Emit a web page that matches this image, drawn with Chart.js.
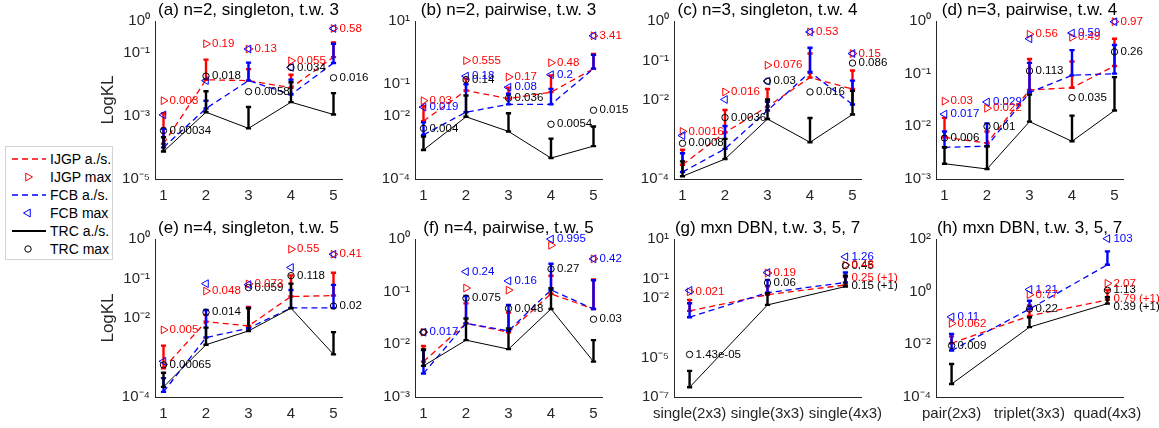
<!DOCTYPE html>
<html><head><meta charset="utf-8">
<script src="https://cdn.jsdelivr.net/npm/chart.js@4.4.0/dist/chart.umd.min.js"></script>
<style>
html,body{margin:0;padding:0;background:#fff;width:1159px;height:428px;overflow:hidden;position:relative;font-family:"Liberation Sans",Arial,Helvetica,sans-serif;}
canvas{position:absolute;}
#legend{position:absolute;left:5px;top:146px;width:106px;height:112px;border:1px solid #d4d4d4;background:#fff;z-index:10;font-size:14px;color:#000;}
.li{position:absolute;left:0;height:18px;width:106px;}
.li svg{position:absolute;left:6px;top:0;}
.li span{position:absolute;left:44px;top:0;line-height:18px;white-space:nowrap;}
</style></head>
<body>
<div id="legend">
 <div class="li" style="top:3px"><svg width="34" height="18"><line x1="0" y1="9" x2="34" y2="9" stroke="#ff0000" stroke-width="1.3" stroke-dasharray="6,4"/></svg><span>IJGP a./s.</span></div>
 <div class="li" style="top:21px"><svg width="34" height="18"><polygon points="20.5,9 13.75,5.1 13.75,12.9" fill="none" stroke="#ff0000" stroke-width="1"/></svg><span>IJGP max</span></div>
 <div class="li" style="top:39px"><svg width="34" height="18"><line x1="0" y1="9" x2="34" y2="9" stroke="#0000ff" stroke-width="1.3" stroke-dasharray="6,4"/></svg><span>FCB a./s.</span></div>
 <div class="li" style="top:57px"><svg width="34" height="18"><polygon points="11.5,9 18.25,5.1 18.25,12.9" fill="none" stroke="#0000ff" stroke-width="1"/></svg><span>FCB max</span></div>
 <div class="li" style="top:75px"><svg width="34" height="18"><line x1="0" y1="9" x2="34" y2="9" stroke="#000" stroke-width="2"/></svg><span>TRC a./s.</span></div>
 <div class="li" style="top:93px"><svg width="34" height="18"><circle cx="16" cy="9" r="3.2" fill="none" stroke="#000" stroke-width="1"/></svg><span>TRC max</span></div>
</div>
<script>
// ---------- shared categories ----------
const xNum = [1, 2, 3, 4, 5];
const xCat = [1, 2, 3];
const catG = ['single(2x3)', 'single(3x3)', 'single(4x3)'];
const catH = ['pair(2x3)', 'triplet(3x3)', 'quad(4x3)'];

// ---------- (a) n=2, singleton, t.w. 3 ----------
const aTicks = [1e-5, 1e-3, 1e-1, 1];
const aIJGP = [1.3e-4, 0.0138, 0.013, 0.0077, 0.072];
const aIJGPtop = [1.2e-3, 0.06, 0.03, 0.02, 0.21];
const aFCB = [1e-4, 0.0017, 0.013, 0.0047, 0.047];
const aFCBtop = [3.9e-4, 0.003, 0.048, 0.014, 0.19];
const aTRC = [7.4e-5, 1.3e-3, 4e-4, 2.7e-3, 1.1e-3];
const aTRCtop = [2.1e-4, 6e-3, 1.9e-3, 0.0115, 5.2e-3];
const aIJGPmax = [0.003, 0.19, 0.13, 0.055, 0.58];
const aFCBmax = [0.00107, 0.013, 0.13, 0.034, 0.58];
const aTRCmax = [0.00034, 0.018, 0.0058, 0.034, 0.016];
const aIJGPlbl = ['0.003', '0.19', '0.13', '0.055', '0.58'];
const aFCBlbl = ['', '', '', '', ''];
const aTRClbl = ['0.00034', '0.018', '0.0058', '0.034', '0.016'];

// ---------- (b) n=2, pairwise, t.w. 3 ----------
const bTicks = [1e-4, 1e-2, 1e-1, 10];
const bIJGP = [6.8e-3, 0.063, 0.035, 0.056, 0.31];
const bIJGPtop = [0.02, 0.15, 0.078, 0.19, 0.9];
const bFCB = [2.5e-3, 0.013, 0.023, 0.023, 0.31];
const bFCBtop = [6.2e-3, 0.1, 0.05, 0.071, 0.85];
const bTRC = [8.3e-4, 9.3e-3, 3.2e-3, 4.6e-4, 1.1e-3];
const bTRCtop = [2.2e-3, 0.044, 0.012, 1.9e-3, 4.6e-3];
const bIJGPmax = [0.03, 0.555, 0.17, 0.48, 3.41];
const bFCBmax = [0.019, 0.18, 0.08, 0.2, 3.41];
const bTRCmax = [0.004, 0.14, 0.036, 0.0054, 0.015];
const bIJGPlbl = ['0.03', '0.555', '0.17', '0.48', '3.41'];
const bFCBlbl = ['0.019', '0.18', '0.08', '0.2', ''];
const bTRClbl = ['0.004', '0.14', '0.036', '0.0054', '0.015'];

// ---------- (c) n=3, singleton, t.w. 4 ----------
const cTicks = [1e-4, 1e-2, 1e-1, 1];
const cIJGP = [2.3e-4, 1.5e-3, 6.8e-3, 0.037, 0.019];
const cIJGPtop = [5.5e-4, 5.6e-3, 0.019, 0.15, 0.056];
const cFCB = [1.5e-4, 5.8e-4, 5.4e-3, 0.051, 7.7e-3];
const cFCBtop = [4.5e-4, 2.2e-3, 0.009, 0.21, 0.031];
const cTRC = [1.17e-4, 3.2e-4, 3.3e-3, 8.5e-4, 4.3e-3];
const cTRCtop = [2.8e-4, 1.04e-3, 0.0103, 3.5e-3, 0.017];
const cIJGPmax = [0.0016, 0.016, 0.076, 0.53, 0.15];
const cFCBmax = [0.00126, 0.0103, 0.03, 0.53, 0.15];
const cTRCmax = [0.0008, 0.0036, 0.03, 0.016, 0.086];
const cIJGPlbl = ['0.0016', '0.016', '0.076', '0.53', '0.15'];
const cFCBlbl = ['', '', '', '', ''];
const cTRClbl = ['0.0008', '0.0036', '0.03', '0.016', '0.086'];

// ---------- (d) n=3, pairwise, t.w. 4 ----------
const dTicks = [1e-3, 1e-2, 1e-1, 1];
const dIJGP = [6.2e-3, 4.8e-3, 0.049, 0.054, 0.14];
const dIJGPtop = [0.0145, 0.008, 0.19, 0.17, 0.46];
const dFCB = [4e-3, 4.2e-3, 0.044, 0.093, 0.1];
const dFCBtop = [8e-3, 0.0114, 0.16, 0.28, 0.35];
const dTRC = [1.95e-3, 1.55e-3, 0.0123, 5.2e-3, 0.02];
const dTRCtop = [4e-3, 4.2e-3, 0.04, 0.016, 0.086];
const dIJGPmax = [0.03, 0.022, 0.56, 0.49, 0.97];
const dFCBmax = [0.017, 0.029, 0.46, 0.59, 0.97];
const dTRCmax = [0.006, 0.01, 0.113, 0.035, 0.26];
const dIJGPlbl = ['0.03', '0.022', '0.56', '0.49', '0.97'];
const dFCBlbl = ['0.017', '0.029', '', '0.59', ''];
const dTRClbl = ['0.006', '0.01', '0.113', '0.035', '0.26'];

// ---------- (e) n=4, singleton, t.w. 5 ----------
const eTicks = [1e-4, 1e-2, 1e-1, 1];
const eIJGP = [5.3e-4, 8.1e-3, 6.3e-3, 0.035, 0.037];
const eIJGPtop = [2e-3, 0.012, 0.019, 0.12, 0.14];
const eFCB = [1.35e-4, 3.2e-3, 5.5e-3, 0.018, 0.018];
const eFCBtop = [3e-4, 0.016, 0.018, 0.051, 0.069];
const eTRC = [1.8e-4, 2.1e-3, 4.7e-3, 0.0177, 1.2e-3];
const eTRCtop = [4.1e-4, 5.7e-3, 0.0177, 0.074, 4.4e-3];
const eIJGPmax = [0.005, 0.048, 0.073, 0.55, 0.41];
const eFCBmax = [0.0008, 0.074, 0.07, 0.19, 0.41];
const eTRCmax = [0.00065, 0.014, 0.059, 0.118, 0.02];
const eIJGPlbl = ['0.005', '0.048', '0.073', '0.55', '0.41'];
const eFCBlbl = ['', '', '', '', ''];
const eTRClbl = ['0.00065', '0.014', '0.059', '0.118', '0.02'];

// ---------- (f) n=4, pairwise, t.w. 5 ----------
const fTicks = [1e-3, 1e-2, 1e-1, 1];
const fIJGP = [4.7e-3, 0.025, 0.017, 0.091, 0.047];
const fIJGPtop = [9.3e-3, 0.06, 0.04, 0.2, 0.17];
const fFCB = [2.8e-3, 0.025, 0.018, 0.108, 0.047];
const fFCBtop = [7.8e-3, 0.083, 0.056, 0.34, 0.165];
const fTRC = [3.9e-3, 0.012, 8.1e-3, 0.047, 4.7e-3];
const fTRCtop = [8e-3, 0.031, 0.02, 0.117, 0.012];
const fIJGPmax = [0.017, 0.117, 0.107, 0.76, 0.42];
const fFCBmax = [0.017, 0.24, 0.16, 0.995, 0.42];
const fTRCmax = [0.017, 0.075, 0.048, 0.27, 0.03];
const fIJGPlbl = ['', '', '', '', ''];
const fFCBlbl = ['0.017', '0.24', '0.16', '0.995', '0.42'];
const fTRClbl = ['', '0.075', '0.048', '0.27', '0.03'];

// ---------- (g) mxn DBN, single ----------
const gTicks = [1e-7, 1e-5, 1e-2, 1e-1, 10];
const gIJGP = [2.3e-3, 0.015, 0.047];
const gIJGPtop = [8.3e-3, 0.04, 0.12];
const gFCB = [1.1e-3, 0.019, 0.063];
const gFCBtop = [5.6e-3, 0.085, 0.2];
const gTRC = [3.1e-7, 4.6e-3, 0.039];
const gTRCtop = [2.1e-6, 0.018, 0.14];
const gIJGPmax = [0.021, 0.19, 0.48];
const gFCBmax = [0.025, 0.2, 1.26];
const gTRCmax = [1.43e-5, 0.06, 0.45];
const gIJGPlbl = ['0.021', '0.19', '0.48'];
const gFCBlbl = ['', '', '1.26'];
const gTRClbl = ['1.43e-05', '0.06', '0.45'];
const gNoteText = ['0.25 (+1)', '0.15 (+1)'];
const gNoteVal = [0.11, 0.045];

// ---------- (h) mxn DBN, pair/triplet/quad ----------
const hTicks = [1e-4, 1e-2, 1, 100];
const hIJGP = [0.011, 0.12, 0.49];
const hIJGPtop = [0.02, 0.3, 1.17];
const hFCB = [5.8e-3, 0.22, 10.5];
const hFCBtop = [0.025, 0.45, 34];
const hTRC = [3.1e-4, 0.045, 0.35];
const hTRCtop = [1.8e-3, 0.107, 0.61];
const hIJGPmax = [0.062, 0.77, 2.07];
const hFCBmax = [0.11, 1.21, 103];
const hTRCmax = [0.009, 0.22, 1.13];
const hIJGPlbl = ['0.062', '0.77', '2.07'];
const hFCBlbl = ['0.11', '1.21', '103'];
const hTRClbl = ['0.009', '0.22', '1.13'];
const hNoteText = ['0.79 (+1)', '0.39 (+1)'];
const hNoteVal = [0.52, 0.26];

// ---------- styling / layout ----------
const RED = '#ff0000', BLUE = '#0000ff', BLACK = '#000000', AX = '#262626';
const FONT = '"Liberation Sans", Arial, Helvetica, sans-serif';
Chart.defaults.font.family = FONT;
const YW = 75, XH = 32, TH = 24, PH = 158, PW = 187;
const SUP = {'-': '\u207B', '0': '\u2070', '1': '\u00B9', '2': '\u00B2', '3': '\u00B3', '4': '\u2074', '5': '\u2075', '6': '\u2076', '7': '\u2077', '8': '\u2078', '9': '\u2079'};
function sup(v) { const e = Math.round(Math.log10(v)); return '10' + String(e).split('').map(c => SUP[c]).join(''); }

const panels = [
  {t: '(a) n=2, singleton, t.w. 3', pl: 155, top: -3, x: xNum, yt: aTicks, yl: true, ij: aIJGP, ijT: aIJGPtop, fc: aFCB, fcT: aFCBtop, tr: aTRC, trT: aTRCtop, ijM: aIJGPmax, fcM: aFCBmax, trM: aTRCmax, ijL: aIJGPlbl, fcL: aFCBlbl, trL: aTRClbl},
  {t: '(b) n=2, pairwise, t.w. 3', pl: 415, top: -3, x: xNum, yt: bTicks, ij: bIJGP, ijT: bIJGPtop, fc: bFCB, fcT: bFCBtop, tr: bTRC, trT: bTRCtop, ijM: bIJGPmax, fcM: bFCBmax, trM: bTRCmax, ijL: bIJGPlbl, fcL: bFCBlbl, trL: bTRClbl},
  {t: '(c) n=3, singleton, t.w. 4', pl: 674, top: -3, x: xNum, yt: cTicks, ij: cIJGP, ijT: cIJGPtop, fc: cFCB, fcT: cFCBtop, tr: cTRC, trT: cTRCtop, ijM: cIJGPmax, fcM: cFCBmax, trM: cTRCmax, ijL: cIJGPlbl, fcL: cFCBlbl, trL: cTRClbl},
  {t: '(d) n=3, pairwise, t.w. 4', pl: 936, top: -3, x: xNum, yt: dTicks, ij: dIJGP, ijT: dIJGPtop, fc: dFCB, fcT: dFCBtop, tr: dTRC, trT: dTRCtop, ijM: dIJGPmax, fcM: dFCBmax, trM: dTRCmax, ijL: dIJGPlbl, fcL: dFCBlbl, trL: dTRClbl},
  {t: '(e) n=4, singleton, t.w. 5', pl: 155, top: 215, x: xNum, yt: eTicks, yl: true, ij: eIJGP, ijT: eIJGPtop, fc: eFCB, fcT: eFCBtop, tr: eTRC, trT: eTRCtop, ijM: eIJGPmax, fcM: eFCBmax, trM: eTRCmax, ijL: eIJGPlbl, fcL: eFCBlbl, trL: eTRClbl},
  {t: '(f) n=4, pairwise, t.w. 5', pl: 415, top: 215, x: xNum, yt: fTicks, ij: fIJGP, ijT: fIJGPtop, fc: fFCB, fcT: fFCBtop, tr: fTRC, trT: fTRCtop, ijM: fIJGPmax, fcM: fFCBmax, trM: fTRCmax, ijL: fIJGPlbl, fcL: fFCBlbl, trL: fTRClbl},
  {t: '(g) mxn DBN, t.w. 3, 5, 7', pl: 674, top: 215, x: xCat, cats: catG, yt: gTicks, ij: gIJGP, ijT: gIJGPtop, fc: gFCB, fcT: gFCBtop, tr: gTRC, trT: gTRCtop, ijM: gIJGPmax, fcM: gFCBmax, trM: gTRCmax, ijL: gIJGPlbl, fcL: gFCBlbl, trL: gTRClbl, nt: gNoteText, nv: gNoteVal},
  {t: '(h) mxn DBN, t.w. 3, 5, 7', pl: 936, top: 215, x: xCat, cats: catH, yt: hTicks, ij: hIJGP, ijT: hIJGPtop, fc: hFCB, fcT: hFCBtop, tr: hTRC, trT: hTRCtop, ijM: hIJGPmax, fcM: hFCBmax, trM: hTRCmax, ijL: hIJGPlbl, fcL: hFCBlbl, trL: hTRClbl, nt: hNoteText, nv: hNoteVal}
];

function pts(xs, ys) { return xs.map((x, i) => ({x: x, y: ys[i]})); }

function makePlugin(P, k) {
  return {
    id: 'extras' + k,
    beforeDatasetDraw(chart, args) {
      if (args.index !== 2) return;
      const ctx = chart.ctx, xs = chart.scales.x, ys = chart.scales.y;
      ctx.save();
      ctx.lineWidth = 2.4; ctx.lineCap = 'butt';
      [[P.ij, P.ijT, RED], [P.fc, P.fcT, BLUE], [P.tr, P.trT, BLACK]].forEach(g => {
        ctx.strokeStyle = g[2];
        P.x.forEach((xv, i) => {
          const px = xs.getPixelForValue(xv), y0 = ys.getPixelForValue(g[0][i]), y1 = ys.getPixelForValue(g[1][i]);
          ctx.beginPath();
          ctx.moveTo(px, y0); ctx.lineTo(px, y1);
          ctx.moveTo(px - 2.6, y0); ctx.lineTo(px + 2.6, y0);
          ctx.moveTo(px - 2.6, y1); ctx.lineTo(px + 2.6, y1);
          ctx.stroke();
        });
      });
      ctx.restore();
    },
    afterDatasetsDraw(chart) {
      const ctx = chart.ctx, xs = chart.scales.x, ys = chart.scales.y;
      ctx.save();
      ctx.font = '11.5px ' + FONT; ctx.textBaseline = 'middle'; ctx.textAlign = 'left';
      [[P.trM, P.trL, BLACK], [P.fcM, P.fcL, BLUE], [P.ijM, P.ijL, RED]].forEach(g => {
        ctx.fillStyle = g[2];
        P.x.forEach((xv, i) => {
          if (!g[1][i]) return;
          ctx.fillText(g[1][i], xs.getPixelForValue(xv) + 6, ys.getPixelForValue(g[0][i]));
        });
      });
      if (P.nt) {
        const lastX = xs.getPixelForValue(P.x[P.x.length - 1]) + 6;
        const cols = [RED, BLACK];
        P.nt.forEach((s, i) => { ctx.fillStyle = cols[i]; ctx.fillText(s, lastX, ys.getPixelForValue(P.nv[i])); });
      }
      ctx.restore();
    }
  };
}

panels.forEach((P, k) => {
  const cv = document.createElement('canvas');
  const W = YW + PW + YW, H = TH + PH + XH;
  cv.width = W; cv.height = H;
  cv.style.width = W + 'px'; cv.style.height = H + 'px';
  cv.style.left = (P.pl - YW) + 'px'; cv.style.top = P.top + 'px';
  document.body.appendChild(cv);
  const emin = Math.log10(P.yt[0]), emax = Math.log10(P.yt[P.yt.length - 1]);
  const xmax = P.x[P.x.length - 1] + 0.2;
  new Chart(cv, {
    type: 'line',
    data: {datasets: [
      {label: 'TRC max', data: pts(P.x, P.trM), showLine: false, pointStyle: 'circle', pointRadius: 3.2, pointBorderWidth: 1, borderColor: BLACK, pointBorderColor: BLACK, pointBackgroundColor: 'rgba(0,0,0,0)', clip: false},
      {label: 'FCB max', data: pts(P.x, P.fcM), showLine: false, pointStyle: 'triangle', pointRotation: -90, pointRadius: 4.5, pointBorderWidth: 1, borderColor: BLUE, pointBorderColor: BLUE, pointBackgroundColor: 'rgba(0,0,0,0)', clip: false},
      {label: 'IJGP max', data: pts(P.x, P.ijM), showLine: false, pointStyle: 'triangle', pointRotation: 90, pointRadius: 4.5, pointBorderWidth: 1, borderColor: RED, pointBorderColor: RED, pointBackgroundColor: 'rgba(0,0,0,0)', clip: false},
      {label: 'TRC a./s.', data: pts(P.x, P.tr), borderColor: BLACK, borderWidth: 1, pointRadius: 0, fill: false, tension: 0},
      {label: 'FCB a./s.', data: pts(P.x, P.fc), borderColor: BLUE, borderWidth: 1.3, borderDash: [6, 4], pointRadius: 0, fill: false, tension: 0},
      {label: 'IJGP a./s.', data: pts(P.x, P.ij), borderColor: RED, borderWidth: 1.3, borderDash: [6, 4], pointRadius: 0, fill: false, tension: 0}
    ]},
    options: {
      responsive: false, animation: false, devicePixelRatio: 1,
      layout: {padding: 0},
      events: [],
      plugins: {
        legend: {display: false}, tooltip: {enabled: false},
        title: {display: true, text: P.t, color: '#000', font: {size: 17, weight: 'normal', family: FONT}, padding: {top: 3.6, bottom: 0}}
      },
      scales: {
        x: {
          type: 'linear', position: 'bottom', min: 0.8, max: xmax,
          grid: {display: false, drawTicks: false},
          border: {display: true, color: AX, width: 1},
          ticks: {color: AX, font: {size: 15, family: FONT}, padding: 8, maxRotation: 0, autoSkip: false,
            callback: (v) => P.cats ? P.cats[Math.round(v) - 1] : String(v)},
          afterBuildTicks: (s) => { s.ticks = P.x.map(v => ({value: v})); },
          afterFit: (s) => { s.height = XH; }
        },
        y: {
          type: 'logarithmic', position: 'left', min: Math.pow(10, emin), max: Math.pow(10, emax),
          grid: {display: false, drawTicks: false},
          border: {display: true, color: AX, width: 1},
          ticks: {color: AX, font: {size: 15, family: FONT}, padding: 5, autoSkip: false, callback: (v) => sup(v)},
          afterBuildTicks: (s) => { s.ticks = P.yt.map(v => ({value: v})); },
          afterFit: (s) => { s.width = YW; },
          title: {display: !!P.yl, text: 'LogKL', color: AX, font: {size: 17, family: FONT}, padding: {top: 18, bottom: 0}}
        },
        y2: {
          type: 'linear', position: 'right', display: true,
          grid: {display: false, drawTicks: false}, border: {display: false},
          ticks: {display: false},
          afterFit: (s) => { s.width = YW; }
        }
      }
    },
    plugins: [makePlugin(P, k)]
  });
});
</script>
</body></html>
